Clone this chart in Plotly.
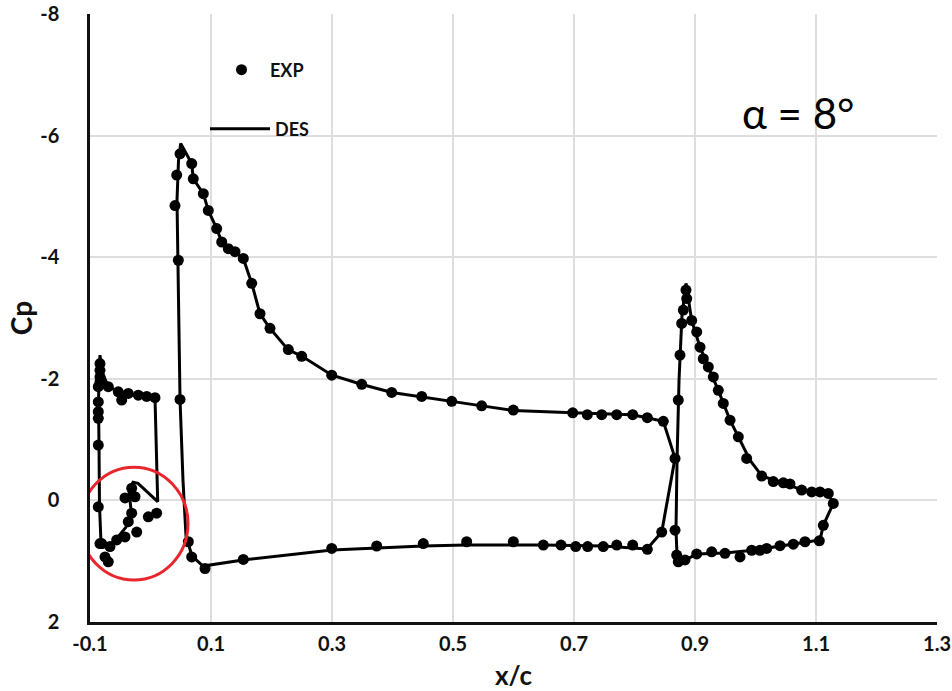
import plotly.graph_objects as go

# ---------------- data ----------------
# DES (line) : slat, main element, flap  (None separates the elements)
des_slat_x = [0.0074, -0.0063, -0.0207, -0.0372, -0.0537, -0.0702, -0.0802, -0.0835, -0.0851, -0.0860,
              -0.0851, -0.0843, -0.0818, -0.0785, -0.0670, -0.0537, -0.0405, -0.0322, -0.0355, -0.0289,
              -0.0207, 0.0119, 0.0074]
des_slat_y = [-1.70, -1.71, -1.73, -1.76, -1.79, -1.88, -2.11, -2.39, -2.06, -1.65,
              -0.91, 0.08, 0.70, 0.77, 0.735, 0.60, 0.44, 0.16, -0.17, -0.30,
              -0.28, 0.02, -1.70]
des_main_x = [0.867, 0.8476, 0.8207, 0.7959, 0.6983, 0.5992, 0.5479, 0.4983, 0.4488, 0.3992,
              0.3496, 0.300, 0.2504, 0.2273, 0.1975, 0.181, 0.1673, 0.1534, 0.1397, 0.1286,
              0.1177, 0.1094, 0.0955, 0.0873, 0.0707, 0.0681, 0.0499, 0.0463, 0.0438, 0.0455,
              0.0488, 0.0537, 0.0587, 0.0686, 0.0868, 0.1529, 0.300, 0.4504, 0.5215, 0.6488,
              0.7479, 0.8207, 0.845, 0.867]
des_main_y = [-0.695, -1.30, -1.36, -1.41, -1.44, -1.48, -1.555, -1.63, -1.71, -1.775,
              -1.906, -2.06, -2.37, -2.48, -2.83, -3.07, -3.57, -3.98, -4.09, -4.14,
              -4.25, -4.47, -4.77, -5.045, -5.29, -5.54, -5.87, -5.59, -4.935, -3.95,
              -1.665, -0.33, 0.59, 0.915, 1.08, 0.98, 0.817, 0.75, 0.735, 0.735,
              0.75, 0.80, 0.52, -0.695]
des_flap_x = [1.1286, 1.1203, 1.1066, 1.0769, 1.0455, 1.0107, 0.9909, 0.9716, 0.9579, 0.9385,
              0.922, 0.9083, 0.8945, 0.8851, 0.8785, 0.8736, 0.8703, 0.8686, 0.8703, 0.8802,
              0.9033, 0.9496, 0.9959, 1.0405, 1.0818, 1.1066, 1.1121, 1.1286]
des_flap_y = [0.05, -0.115, -0.14, -0.17, -0.29, -0.40, -0.66, -1.04, -1.32, -1.81,
              -2.195, -2.52, -2.96, -3.57, -3.045, -1.98, -0.66, 0.49, 0.90, 1.00,
              0.88, 0.865, 0.82, 0.75, 0.68, 0.65, 0.41, 0.05]

# EXP (markers)
exp_slat_x = [-0.0835, -0.0835, -0.0835, -0.0835, -0.0863, -0.0863, -0.0863, -0.0863, -0.0863, -0.0863,
              -0.0835, -0.0698, -0.0532, -0.0476, -0.0367, -0.0202, -0.0063, 0.0074,
              -0.0311, -0.0421, -0.0256, -0.0311, -0.0367, -0.0228, -0.0421, -0.0559, -0.0670,
              -0.0807, -0.0752, -0.0698, -0.0036, 0.0102]
exp_slat_y = [-2.25, -2.14, -2.03, -1.95, -1.87, -1.62, -1.46, -1.35, -0.91, 0.105,
              0.71, -1.87, -1.785, -1.65, -1.76, -1.73, -1.71, -1.69,
              -0.20, -0.04, -0.06, 0.21, 0.35, 0.52, 0.60, 0.65, 0.76,
              0.71, 0.93, 1.01, 0.27, 0.21]
exp_main_x = [0.0488, 0.046, 0.0405, 0.0433, 0.0488,
              0.0681, 0.0707, 0.0873, 0.0955, 0.1094, 0.1177, 0.1286, 0.1397, 0.1534, 0.1673,
              0.181, 0.1975, 0.2278, 0.2499, 0.2995, 0.3491, 0.3987, 0.4483, 0.4979, 0.5474,
              0.5997, 0.6979, 0.722, 0.7458, 0.7706, 0.797, 0.8212, 0.8476, 0.867,
              0.0625, 0.0681, 0.0901, 0.1534, 0.2995, 0.3739, 0.4509, 0.5226, 0.5997, 0.6493,
              0.6785, 0.7028, 0.7226, 0.7484, 0.7706, 0.797, 0.8212, 0.845]
exp_main_y = [-1.66, -3.95, -4.85, -5.35, -5.70,
              -5.54, -5.29, -5.045, -4.77, -4.47, -4.25, -4.14, -4.09, -3.98, -3.57,
              -3.07, -2.83, -2.48, -2.37, -2.06, -1.91, -1.775, -1.71, -1.63, -1.555,
              -1.485, -1.44, -1.41, -1.41, -1.41, -1.41, -1.36, -1.30, -0.69,
              0.68, 0.93, 1.12, 0.97, 0.79, 0.75, 0.71, 0.68, 0.68, 0.735,
              0.735, 0.76, 0.76, 0.76, 0.735, 0.735, 0.805, 0.52]
exp_flap_x = [0.867, 0.8724, 0.8752, 0.878, 0.8807, 0.8863, 0.8851,
              0.8945, 0.9028, 0.9083, 0.9137, 0.922, 0.9303, 0.9385, 0.9468, 0.9579, 0.9716,
              0.9854, 1.0103, 1.0294, 1.046, 1.057, 1.0763, 1.0929, 1.1066, 1.1203, 1.1286,
              1.1121, 1.1055, 1.0818, 1.0625, 1.0405, 1.0185, 1.0074, 0.9937, 0.9744, 0.9496,
              0.9276, 0.9028, 0.8835, 0.8724, 0.8697]
exp_flap_y = [0.49, -1.65, -2.39, -2.91, -3.13, -3.32, -3.46,
              -2.96, -2.77, -2.52, -2.33, -2.195, -2.03, -1.81, -1.595, -1.32, -1.045,
              -0.69, -0.40, -0.31, -0.29, -0.27, -0.17, -0.14, -0.14, -0.115, 0.05,
              0.41, 0.665, 0.68, 0.72, 0.745, 0.79, 0.82, 0.82, 0.93, 0.87,
              0.845, 0.88, 0.98, 1.01, 0.90]

x_ticks = [-0.1, 0.1, 0.3, 0.5, 0.7, 0.9, 1.1, 1.3]
x_tick_text = ["-0.1", "0.1", "0.3", "0.5", "0.7", "0.9", "1.1", "1.3"]
y_ticks = [-8, -6, -4, -2, 0, 2]
y_tick_text = ["-8", "-6", "-4", "-2", "0", "2"]

# ---------------- figure ----------------
des_x = des_slat_x + [None] + des_main_x + [None] + des_flap_x
des_y = des_slat_y + [None] + des_main_y + [None] + des_flap_y
exp_x = exp_slat_x + exp_main_x + exp_flap_x
exp_y = exp_slat_y + exp_main_y + exp_flap_y

FONT = "Lato"
L, R, T, B = 90, 15, 14, 69
PW, PH = 952 - L - R, 691 - T - B


def px_x(p):
    return (p - L) / PW


def px_y(p):
    return 1 - (p - T) / PH


fig = go.Figure()
fig.add_trace(go.Scatter(x=des_x, y=des_y, mode="lines", name="DES",
                         line=dict(color="black", width=3), connectgaps=False,
                         legend="legend2", showlegend=True))
fig.add_trace(go.Scatter(x=exp_x, y=exp_y, mode="markers", name="EXP",
                         marker=dict(color="black", size=11), legend="legend",
                         showlegend=True))

# red circle highlighting slat region
fig.add_shape(type="circle", xref="x", yref="y",
              x0=-0.1165, x1=0.062, y0=-0.547, y1=1.31,
              line=dict(color="#e8262c", width=3))

fig.add_annotation(text="α = 8°", xref="paper", yref="paper",
                   x=px_x(798), y=px_y(113), xanchor="center", yanchor="middle",
                   showarrow=False,
                   font=dict(family=FONT, size=42, color="black"))

axis_font = dict(family=FONT, size=20, color="#111111", weight="bold")
fig.update_layout(
    width=952, height=691,
    showlegend=True,
    margin=dict(l=L, r=R, t=T, b=B, autoexpand=False),
    plot_bgcolor="white", paper_bgcolor="white",
    font=dict(family=FONT, color="black"),
    xaxis=dict(range=[-0.1, 1.3], tickvals=x_ticks, ticktext=x_tick_text,
               showgrid=True, gridcolor="#dedede", gridwidth=1.5, zeroline=False,
               showline=True, linecolor="#111111", linewidth=2.5, ticks="",
               tickfont=axis_font, ticklabelstandoff=2,
               title=dict(text="x/c", font=dict(family=FONT, size=26, color="#111111", weight="bold"),
                          standoff=14)),
    yaxis=dict(range=[2, -8], tickvals=y_ticks, ticktext=y_tick_text,
               showgrid=True, gridcolor="#dedede", gridwidth=1.5, zeroline=False,
               showline=True, linecolor="#111111", linewidth=2.5, ticks="",
               tickfont=axis_font, ticklabelstandoff=24,
               title=dict(text="Cp", font=dict(family=FONT, size=28, color="#111111", weight="bold"),
                          standoff=0)),
    legend=dict(xref="paper", yref="paper", x=px_x(213), y=px_y(70),
                xanchor="left", yanchor="middle", bgcolor="rgba(0,0,0,0)",
                font=dict(family=FONT, size=18, color="#111111", weight="bold"),
                itemwidth=47, visible=True),
    legend2=dict(xref="paper", yref="paper", x=px_x(205), y=px_y(129),
                 xanchor="left", yanchor="middle", bgcolor="rgba(0,0,0,0)",
                 font=dict(family=FONT, size=18, color="#111111", weight="bold"),
                 itemwidth=60, visible=True),
)

fig.write_html("out.html")
